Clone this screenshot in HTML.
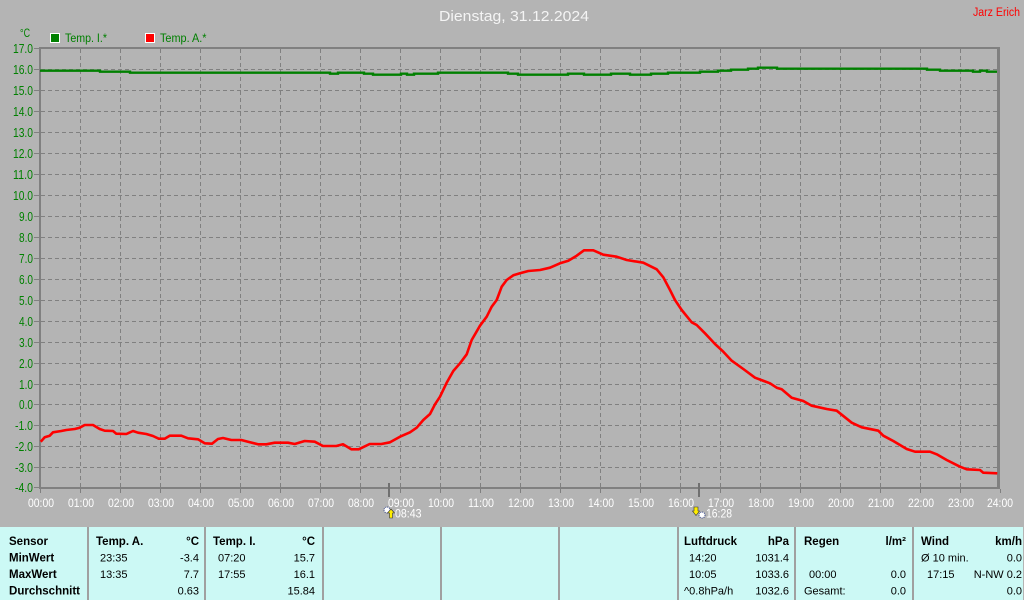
<!DOCTYPE html>
<html><head><meta charset="utf-8"><style>
html,body{margin:0;padding:0;background:#b4b4b4;}
svg{display:block;font-family:"Liberation Sans",Arial,sans-serif;}
</style></head><body>
<svg width="1024" height="600" viewBox="0 0 1024 600" xmlns="http://www.w3.org/2000/svg">
<rect x="0" y="0" width="1024" height="600" fill="#b4b4b4"/>
<!-- title -->
<text x="514" y="21" font-size="15" fill="#f4f4f4" text-anchor="middle" textLength="150" lengthAdjust="spacingAndGlyphs">Dienstag, 31.12.2024</text>
<text x="973" y="16" font-size="11.5" fill="#ff0000" textLength="47" lengthAdjust="spacingAndGlyphs">Jarz Erich</text>
<!-- legend -->
<text x="20" y="37" font-size="11.5" fill="#008000" textLength="10" lengthAdjust="spacingAndGlyphs">°C</text>
<rect x="50.5" y="33.5" width="9" height="9" fill="#008000" stroke="#ffffff" stroke-width="1"/>
<text x="65" y="42" font-size="12" fill="#008000" textLength="42" lengthAdjust="spacingAndGlyphs">Temp. I.*</text>
<rect x="145.5" y="33.5" width="9" height="9" fill="#ff0000" stroke="#ffffff" stroke-width="1"/>
<text x="160" y="42" font-size="12" fill="#008000" textLength="46.5" lengthAdjust="spacingAndGlyphs">Temp. A.*</text>

<!-- grid -->
<g stroke="#808080" stroke-width="1" stroke-dasharray="4,3" shape-rendering="crispEdges" fill="none">
<path d="M41,69.5H997M41,90.5H997M41,111.5H997M41,132.5H997M41,153.5H997M41,174.5H997M41,195.5H997M41,216.5H997M41,237.5H997M41,258.5H997M41,279.5H997M41,300.5H997M41,321.5H997M41,342.5H997M41,363.5H997M41,384.5H997M41,404.5H997M41,425.5H997M41,446.5H997M41,467.5H997"/>
<path d="M80.5,49V487M120.5,49V487M160.5,49V487M200.5,49V487M240.5,49V487M280.5,49V487M320.5,49V487M360.5,49V487M400.5,49V487M440.5,49V487M480.5,49V487M520.5,49V487M560.5,49V487M600.5,49V487M640.5,49V487M680.5,49V487M720.5,49V487M760.5,49V487M800.5,49V487M840.5,49V487M880.5,49V487M920.5,49V487M960.5,49V487"/>
</g>
<!-- frame / axes -->
<g fill="#808080" shape-rendering="crispEdges">
<rect x="39" y="47" width="961" height="2"/>
<rect x="39" y="47" width="2" height="442"/>
<rect x="39" y="487" width="961" height="2"/>
<rect x="997" y="47" width="3" height="442"/>
</g>
<!-- y ticks -->
<g stroke="#808080" stroke-width="1" shape-rendering="crispEdges">
<path d="M34,48.5H39M34,69.5H39M34,90.5H39M34,111.5H39M34,132.5H39M34,153.5H39M34,174.5H39M34,195.5H39M34,216.5H39M34,237.5H39M34,258.5H39M34,279.5H39M34,300.5H39M34,321.5H39M34,342.5H39M34,363.5H39M34,384.5H39M34,404.5H39M34,425.5H39M34,446.5H39M34,467.5H39M34,487.5H39"/>
<path d="M40.5,489V493M80.5,489V493M120.5,489V493M160.5,489V493M200.5,489V493M240.5,489V493M280.5,489V493M320.5,489V493M360.5,489V493M400.5,489V493M440.5,489V493M480.5,489V493M520.5,489V493M560.5,489V493M600.5,489V493M640.5,489V493M680.5,489V493M720.5,489V493M760.5,489V493M800.5,489V493M840.5,489V493M880.5,489V493M920.5,489V493M960.5,489V493M1000.5,489V493"/>
</g>
<!-- y labels -->
<g font-size="12.5" fill="#008000" text-anchor="end">
<text x="33" y="53" textLength="20" lengthAdjust="spacingAndGlyphs">17.0</text>
<text x="33" y="74" textLength="20" lengthAdjust="spacingAndGlyphs">16.0</text>
<text x="33" y="95" textLength="20" lengthAdjust="spacingAndGlyphs">15.0</text>
<text x="33" y="116" textLength="20" lengthAdjust="spacingAndGlyphs">14.0</text>
<text x="33" y="137" textLength="20" lengthAdjust="spacingAndGlyphs">13.0</text>
<text x="33" y="158" textLength="20" lengthAdjust="spacingAndGlyphs">12.0</text>
<text x="33" y="179" textLength="20" lengthAdjust="spacingAndGlyphs">11.0</text>
<text x="33" y="200" textLength="20" lengthAdjust="spacingAndGlyphs">10.0</text>
<text x="33" y="221" textLength="14" lengthAdjust="spacingAndGlyphs">9.0</text>
<text x="33" y="242" textLength="14" lengthAdjust="spacingAndGlyphs">8.0</text>
<text x="33" y="263" textLength="14" lengthAdjust="spacingAndGlyphs">7.0</text>
<text x="33" y="284" textLength="14" lengthAdjust="spacingAndGlyphs">6.0</text>
<text x="33" y="305" textLength="14" lengthAdjust="spacingAndGlyphs">5.0</text>
<text x="33" y="326" textLength="14" lengthAdjust="spacingAndGlyphs">4.0</text>
<text x="33" y="347" textLength="14" lengthAdjust="spacingAndGlyphs">3.0</text>
<text x="33" y="368" textLength="14" lengthAdjust="spacingAndGlyphs">2.0</text>
<text x="33" y="389" textLength="14" lengthAdjust="spacingAndGlyphs">1.0</text>
<text x="33" y="409" textLength="14" lengthAdjust="spacingAndGlyphs">0.0</text>
<text x="33" y="430" textLength="18" lengthAdjust="spacingAndGlyphs">-1.0</text>
<text x="33" y="451" textLength="18" lengthAdjust="spacingAndGlyphs">-2.0</text>
<text x="33" y="472" textLength="18" lengthAdjust="spacingAndGlyphs">-3.0</text>
<text x="33" y="492" textLength="18" lengthAdjust="spacingAndGlyphs">-4.0</text>
</g>
<!-- x labels -->
<g font-size="11.5" fill="#ffffff" text-anchor="middle">
<text x="41" y="507" textLength="26" lengthAdjust="spacingAndGlyphs">00:00</text>
<text x="81" y="507" textLength="26" lengthAdjust="spacingAndGlyphs">01:00</text>
<text x="121" y="507" textLength="26" lengthAdjust="spacingAndGlyphs">02:00</text>
<text x="161" y="507" textLength="26" lengthAdjust="spacingAndGlyphs">03:00</text>
<text x="201" y="507" textLength="26" lengthAdjust="spacingAndGlyphs">04:00</text>
<text x="241" y="507" textLength="26" lengthAdjust="spacingAndGlyphs">05:00</text>
<text x="281" y="507" textLength="26" lengthAdjust="spacingAndGlyphs">06:00</text>
<text x="321" y="507" textLength="26" lengthAdjust="spacingAndGlyphs">07:00</text>
<text x="361" y="507" textLength="26" lengthAdjust="spacingAndGlyphs">08:00</text>
<text x="401" y="507" textLength="26" lengthAdjust="spacingAndGlyphs">09:00</text>
<text x="441" y="507" textLength="26" lengthAdjust="spacingAndGlyphs">10:00</text>
<text x="481" y="507" textLength="26" lengthAdjust="spacingAndGlyphs">11:00</text>
<text x="521" y="507" textLength="26" lengthAdjust="spacingAndGlyphs">12:00</text>
<text x="561" y="507" textLength="26" lengthAdjust="spacingAndGlyphs">13:00</text>
<text x="601" y="507" textLength="26" lengthAdjust="spacingAndGlyphs">14:00</text>
<text x="641" y="507" textLength="26" lengthAdjust="spacingAndGlyphs">15:00</text>
<text x="681" y="507" textLength="26" lengthAdjust="spacingAndGlyphs">16:00</text>
<text x="721" y="507" textLength="26" lengthAdjust="spacingAndGlyphs">17:00</text>
<text x="761" y="507" textLength="26" lengthAdjust="spacingAndGlyphs">18:00</text>
<text x="801" y="507" textLength="26" lengthAdjust="spacingAndGlyphs">19:00</text>
<text x="841" y="507" textLength="26" lengthAdjust="spacingAndGlyphs">20:00</text>
<text x="881" y="507" textLength="26" lengthAdjust="spacingAndGlyphs">21:00</text>
<text x="921" y="507" textLength="26" lengthAdjust="spacingAndGlyphs">22:00</text>
<text x="961" y="507" textLength="26" lengthAdjust="spacingAndGlyphs">23:00</text>
<text x="1000" y="507" textLength="26" lengthAdjust="spacingAndGlyphs">24:00</text>
</g>
<!-- sunrise / sunset markers -->
<g fill="#707070" shape-rendering="crispEdges">
<rect x="388" y="483" width="2" height="14"/>
<rect x="698" y="483" width="2" height="14"/>
</g>
<circle cx="387" cy="510" r="3" fill="#ffffff" stroke="#334488" stroke-width="1" stroke-dasharray="1,1"/>
<polygon points="391,509 394.5,513 392.5,513 392.5,518 389.5,518 389.5,513 387.5,513" fill="#ffee00" stroke="#333" stroke-width="0.6"/>
<text x="395" y="517.5" font-size="11.5" fill="#ffffff" textLength="26.5" lengthAdjust="spacingAndGlyphs">08:43</text>
<polygon points="694,507 698,507 698,511 699.5,511 696,515.5 692.5,511 694,511" fill="#ffee00" stroke="#333" stroke-width="0.6"/>
<circle cx="702" cy="515" r="3" fill="#ffffff" stroke="#334488" stroke-width="1" stroke-dasharray="1,1"/>
<text x="706" y="517.5" font-size="11.5" fill="#ffffff" textLength="26" lengthAdjust="spacingAndGlyphs">16:28</text>

<!-- series -->
<path d="M40,70.7H100V71.7H130V72.7H330V73.7H338V72.7H364V73.7H373V74.7H401V73.7H407V74.7H414V73.7H438V72.7H508V73.7H518V74.7H568V73.7H584V74.7H611V73.7H630V74.7H651V73.7H668V72.7H700V71.7H718V70.7H731V69.7H748V68.7H758V67.7H777V68.7H927V69.7H940V70.7H973V71.7H980V70.7H987V71.7H997" fill="none" stroke="#008000" stroke-width="2.4"/>
<polyline fill="none" stroke="#ff0000" stroke-width="2.6" stroke-linejoin="round" points="40.7,441.7 44.7,437.3 49.7,435.7 53,432.3 61.3,431 66.3,430 74.7,429 79.7,427.7 84.7,425 93,425 99.7,429 104.7,430.7 113,431 116.3,433.7 126.3,434 133,431 138,432.7 146.3,434 153,436 158.7,438.7 164.7,438.7 169.7,435.7 181.3,435.7 188,438.3 198,439.3 204.7,443.3 212,443.7 218,439 223,438 231.3,440 241.3,440 248,441.7 258,444.3 266.3,444.3 274.7,442.7 288,442.7 294.7,444 304.7,441 314.7,441.7 323,446 336.3,446 343,444.3 351.3,449.3 358.7,449.3 369.7,444 381.3,444 390,442.3 400,436.7 410,432.3 416.7,427.7 423.3,420 430,414 435,404.3 440,396.7 446.7,382.7 453.3,371 460,363.3 466.7,354.3 471.7,340 480,325.7 486.7,316.7 491.7,306.7 496.7,300 501.7,286.7 506.7,280 513.3,275.3 520,273.3 528.3,271 540,270 550,267.7 560,263.3 568.3,260.7 576.7,255.7 584,250.3 593.3,250.3 603.3,254.7 616.7,256.7 626.7,260 643.3,262.7 656.7,269.3 663.3,277.3 670,290 675,300 681.7,310 691.7,322.3 696.7,325 705,333.3 715,344 723.3,351.7 731.7,360.7 743.3,369 755,377.7 770,383.3 776.7,387.7 781.7,389.3 791.7,397.7 803.3,401 811.7,405.7 826.7,409 836.7,410.7 851.7,422.7 861.7,427.3 878.3,430.7 883.3,435.7 893.3,441 906.7,449 915,451.7 930,451.7 936.7,454.3 946.7,460 960,466.7 966.7,469.3 980,470 983.3,472.7 997.3,473.3"/>

<!-- table -->
<rect x="0" y="527" width="1023" height="73" fill="#ccf9f5"/>
<g fill="#a0a0a0" shape-rendering="crispEdges">
<rect x="87" y="527" width="2" height="73"/>
<rect x="204" y="527" width="2" height="73"/>
<rect x="322" y="527" width="2" height="73"/>
<rect x="440" y="527" width="2" height="73"/>
<rect x="558" y="527" width="2" height="73"/>
<rect x="677" y="527" width="2" height="73"/>
<rect x="794" y="527" width="2" height="73"/>
<rect x="912" y="527" width="2" height="73"/>
</g>
<g font-size="11.5" font-weight="bold" fill="#000">
<text x="9" y="545">Sensor</text>
<text x="9" y="561.5">MinWert</text>
<text x="9" y="578">MaxWert</text>
<text x="9" y="594.5" textLength="71" lengthAdjust="spacingAndGlyphs">Durchschnitt</text>
<text x="96" y="545">Temp. A.</text>
<text x="199" y="545" text-anchor="end">°C</text>
<text x="213" y="545">Temp. I.</text>
<text x="315" y="545" text-anchor="end">°C</text>
<text x="684" y="545">Luftdruck</text>
<text x="789" y="545" text-anchor="end">hPa</text>
<text x="804" y="545">Regen</text>
<text x="906" y="545" text-anchor="end">l/m²</text>
<text x="921" y="545">Wind</text>
<text x="1022" y="545" text-anchor="end">km/h</text>
</g>
<g font-size="11" fill="#000">
<text x="100" y="561.5">23:35</text>
<text x="199" y="561.5" text-anchor="end">-3.4</text>
<text x="100" y="578">13:35</text>
<text x="199" y="578" text-anchor="end">7.7</text>
<text x="199" y="594.5" text-anchor="end">0.63</text>
<text x="218" y="561.5">07:20</text>
<text x="315" y="561.5" text-anchor="end">15.7</text>
<text x="218" y="578">17:55</text>
<text x="315" y="578" text-anchor="end">16.1</text>
<text x="315" y="594.5" text-anchor="end">15.84</text>
<text x="689" y="561.5">14:20</text>
<text x="789" y="561.5" text-anchor="end">1031.4</text>
<text x="689" y="578">10:05</text>
<text x="789" y="578" text-anchor="end">1033.6</text>
<text x="684" y="594.5">^0.8hPa/h</text>
<text x="789" y="594.5" text-anchor="end">1032.6</text>
<text x="809" y="578">00:00</text>
<text x="906" y="578" text-anchor="end">0.0</text>
<text x="804" y="594.5">Gesamt:</text>
<text x="906" y="594.5" text-anchor="end">0.0</text>
<text x="921" y="561.5">Ø 10 min.</text>
<text x="1022" y="561.5" text-anchor="end">0.0</text>
<text x="927" y="578">17:15</text>
<text x="1022" y="578" text-anchor="end">N-NW 0.2</text>
<text x="1022" y="594.5" text-anchor="end">0.0</text>
</g>
</svg>
</body></html>
